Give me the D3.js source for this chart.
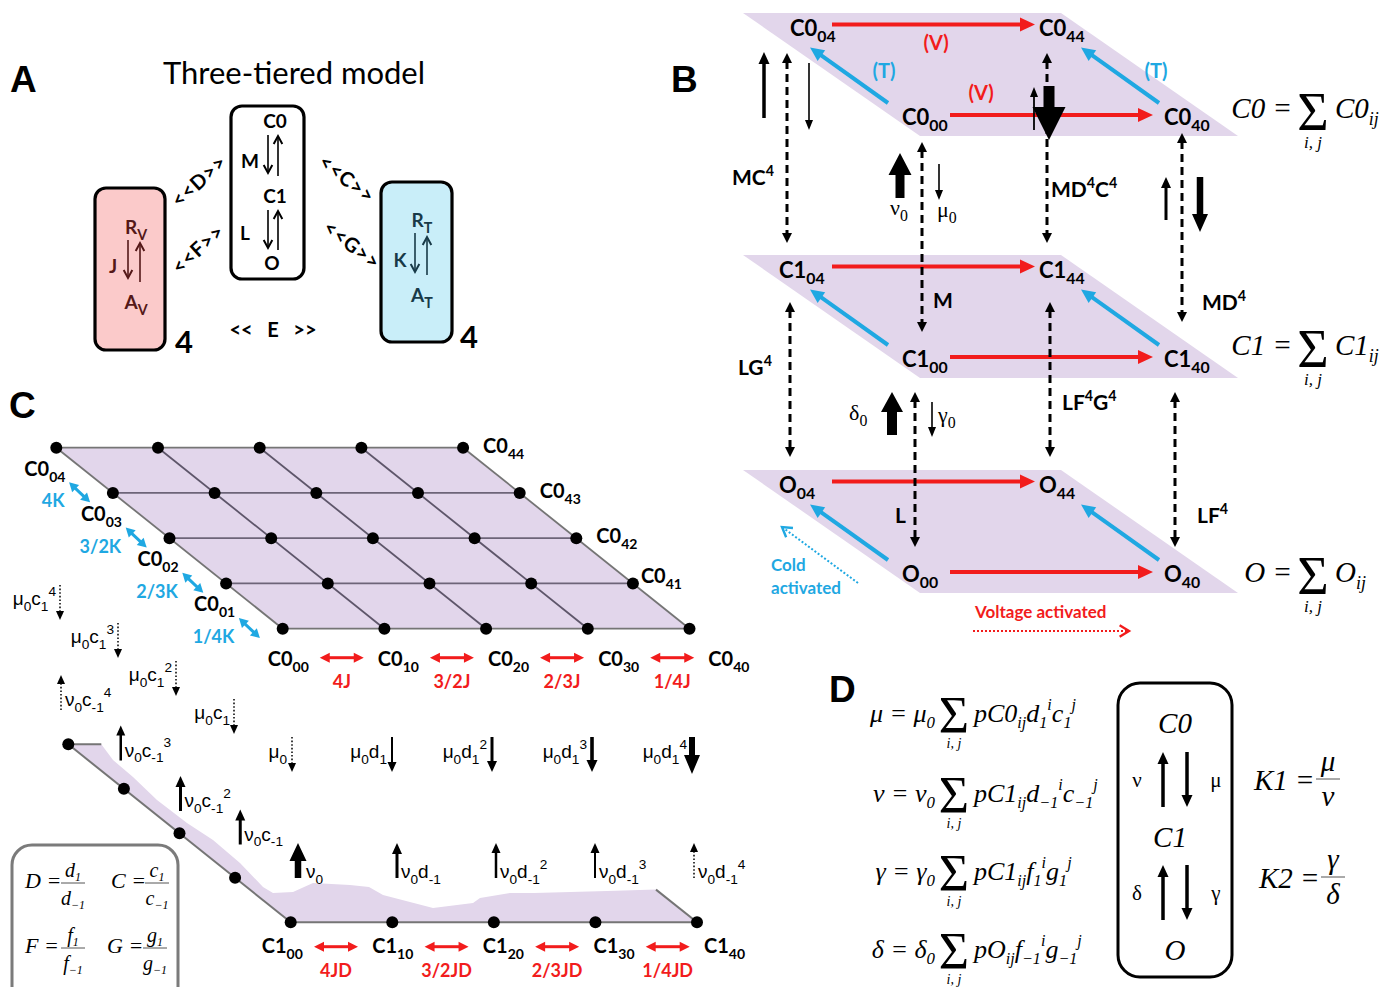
<!DOCTYPE html>
<html>
<head>
<meta charset="utf-8">
<script src="https://cdn.jsdelivr.net/npm/d3@7"></script>
<style>
  body { margin: 0; background: #fff; }
  svg { display: block; }
  text { white-space: pre; }
</style>
</head>
<body>
<div id="chart"></div>
<script>
// ---------------- data ----------------
const panelLetters = ["A", "B", "C", "D"];
const modelTitle = "Three-tiered model";
const poreStates = ["C0", "C1", "O"];
const poreRates = ["M", "L"];
const vSensor = ["R_{V}", "J", "A_{V}"];
const tSensor = ["R_{T}", "K", "A_{T}"];
const couplings = ["<<D>>", "<<F>>", "<<C>>", "<<G>>", "<<   E   >>"];
const sensorCopies = ["4", "4"];

const tierNames = ["C0", "C1", "O"];
const cornerIds = ["04", "44", "00", "40"];
const tierRates = ["MC^{4}", "M", "MD^{4}C^{4}", "MD^{4}", "LG^{4}", "L", "LF^{4}G^{4}", "LF^{4}"];
const baseRates = ["ν_{0}", "μ_{0}", "δ_{0}", "γ_{0}"];
const activationTags = ["(V)", "(T)"];
const coldText = ["Cold", "activated"];
const voltText = "Voltage activated";

const gridIdx = [0, 1, 2, 3, 4];
const kRates = ["4K", "3/2K", "2/3K", "1/4K"];      // C0_04<->C0_03 ... C0_01<->C0_00
const jRates = ["4J", "3/2J", "2/3J", "1/4J"];
const jdRates = ["4JD", "3/2JD", "2/3JD", "1/4JD"];
const muC = ["μ_{0}", "μ_{0}c_{1}", "μ_{0}c_{1}^{2}", "μ_{0}c_{1}^{3}", "μ_{0}c_{1}^{4}"];          // j = 0..4
const nuC = ["ν_{0}", "ν_{0}c_{-1}", "ν_{0}c_{-1}^{2}", "ν_{0}c_{-1}^{3}", "ν_{0}c_{-1}^{4}"];
const muD = ["μ_{0}", "μ_{0}d_{1}", "μ_{0}d_{1}^{2}", "μ_{0}d_{1}^{3}", "μ_{0}d_{1}^{4}"];          // i = 0..4
const nuD = ["ν_{0}", "ν_{0}d_{-1}", "ν_{0}d_{-1}^{2}", "ν_{0}d_{-1}^{3}", "ν_{0}d_{-1}^{4}"];
const ratioDefs = [["D", "d"], ["C", "c"], ["F", "f"], ["G", "g"]];

const sumEqs = [
  ["μ", "pC0_{ij}d_{1}^{i}c_{1}^{j}"],
  ["ν", "pC1_{ij}d_{−1}^{i}c_{−1}^{j}"],
  ["γ", "pC1_{ij}f_{1}^{i}g_{1}^{j}"],
  ["δ", "pO_{ij}f_{−1}^{i}g_{−1}^{j}"]
];
const boxRates = [["ν", "μ"], ["δ", "γ"]];
const equilibria = [["K1", "μ", "ν"], ["K2", "γ", "δ"]];

// ---------------- setup ----------------
const W = 1382, H = 987;
const svg = d3.select("#chart").append("svg")
  .attr("width", W).attr("height", H).attr("viewBox", `0 0 ${W} ${H}`);

const LAB = "Lato, 'Open Sans', 'Liberation Sans', sans-serif";
const ARIAL = "'Liberation Sans', Arial, sans-serif";
const SERIF = "'Liberation Serif', 'Times New Roman', serif";
const RED = "#f21c1c", BLUE = "#1fa8e2", PLANE = "#e2d6eb", GRIDC = "#757575";

// ---------------- helpers ----------------
function headPath(x, y, ang, len, wid) {
  const bx = x - len * Math.cos(ang), by = y - len * Math.sin(ang);
  const nx = -Math.sin(ang) * wid / 2, ny = Math.cos(ang) * wid / 2;
  return `M${x},${y}L${bx + nx},${by + ny}L${bx - nx},${by - ny}Z`;
}

function arrow(g, x1, y1, x2, y2, o) {
  o = Object.assign({ color: "#000", w: 2, len: 10, wid: 9, dash: null, both: false }, o);
  const ang = Math.atan2(y2 - y1, x2 - x1);
  const c = Math.cos(ang), s = Math.sin(ang), back = o.len * 0.8;
  const ax = o.both ? x1 + back * c : x1, ay = o.both ? y1 + back * s : y1;
  g.append("line")
    .attr("x1", ax).attr("y1", ay).attr("x2", x2 - back * c).attr("y2", y2 - back * s)
    .attr("stroke", o.color).attr("stroke-width", o.w).attr("stroke-dasharray", o.dash);
  g.append("path").attr("d", headPath(x2, y2, ang, o.len, o.wid)).attr("fill", o.color);
  if (o.both) g.append("path").attr("d", headPath(x1, y1, ang + Math.PI, o.len, o.wid)).attr("fill", o.color);
}

function openArrow(g, x1, y1, x2, y2, o) {
  o = Object.assign({ color: "#000", w: 1.6, len: 9, spread: 0.5, dash: null }, o);
  const ang = Math.atan2(y2 - y1, x2 - x1);
  g.append("line").attr("x1", x1).attr("y1", y1).attr("x2", x2).attr("y2", y2)
    .attr("stroke", o.color).attr("stroke-width", o.w).attr("stroke-dasharray", o.dash);
  const p = a => [x2 - o.len * Math.cos(a), y2 - o.len * Math.sin(a)];
  const [ax, ay] = p(ang - o.spread), [bx, by] = p(ang + o.spread);
  g.append("path").attr("d", `M${ax},${ay}L${x2},${y2}L${bx},${by}`)
    .attr("fill", "none").attr("stroke", o.color).attr("stroke-width", o.w + 0.4);
}

function block(g, x, yTail, yTip, sw, hw, hl) {
  const d = yTip < yTail ? -1 : 1;
  const yb = yTip - d * hl;
  g.append("path")
    .attr("d", `M${x - sw / 2},${yTail}L${x - sw / 2},${yb}L${x - hw / 2},${yb}L${x},${yTip}` +
               `L${x + hw / 2},${yb}L${x + sw / 2},${yb}L${x + sw / 2},${yTail}Z`)
    .attr("fill", "#000");
}

// text with _{sub} and ^{sup}
function rich(g, x, y, str, o) {
  o = Object.assign({ size: 20, family: LAB, weight: "normal", style: "normal", fill: "#000",
    anchor: "start", scale: 0.7, subDy: 0.3, supDy: -0.42 }, o);
  const t = g.append("text").attr("x", x).attr("y", y)
    .attr("font-family", o.family).attr("font-size", o.size).attr("font-weight", o.weight)
    .attr("font-style", o.style).attr("fill", o.fill).attr("text-anchor", o.anchor);
  const re = /([_^])\{([^}]*)\}|([^_^]+)/g;
  let cur = 0, m;
  while ((m = re.exec(str)) !== null) {
    const scr = !!m[1];
    const off = scr ? (m[1] === "_" ? o.subDy : o.supDy) * o.size : 0;
    t.append("tspan").attr("dy", off - cur)
      .attr("font-size", scr ? o.size * o.scale : o.size)
      .text(scr ? m[2] : m[3]);
    cur = off;
  }
  return t;
}

// ---------------- panel letters ----------------
const letterPos = [[10, 92], [671, 92], [9, 418], [829, 702]];
svg.selectAll("text.panel").data(panelLetters).enter().append("text")
  .attr("class", "panel")
  .attr("x", (d, i) => letterPos[i][0]).attr("y", (d, i) => letterPos[i][1])
  .attr("font-family", ARIAL).attr("font-weight", "bold").attr("font-size", 37)
  .text(d => d);

// ================= PANEL A =================
const gA = svg.append("g");
gA.append("text").attr("x", 294).attr("y", 84).attr("text-anchor", "middle")
  .attr("font-family", LAB).attr("font-size", 31).text(modelTitle);

const boxesA = [
  { x: 95, y: 188, w: 70, h: 162, fill: "#fbcaca" },
  { x: 231, y: 106, w: 73, h: 173, fill: "#ffffff" },
  { x: 381, y: 182, w: 71, h: 160, fill: "#c9eef9" }
];
gA.selectAll("rect").data(boxesA).enter().append("rect")
  .attr("x", d => d.x).attr("y", d => d.y).attr("width", d => d.w).attr("height", d => d.h)
  .attr("rx", 11).attr("fill", d => d.fill).attr("stroke", "#000").attr("stroke-width", 3.2);

const boldA = { size: 19, weight: "bold", scale: 0.75 };
// pore
rich(gA, 275, 128, poreStates[0], Object.assign({ anchor: "middle" }, boldA));
rich(gA, 250, 168, poreRates[0], Object.assign({ anchor: "middle" }, boldA));
rich(gA, 275, 203, poreStates[1], Object.assign({ anchor: "middle" }, boldA));
rich(gA, 245, 240, poreRates[1], Object.assign({ anchor: "middle" }, boldA));
rich(gA, 272, 270, poreStates[2], Object.assign({ anchor: "middle" }, boldA));
openArrow(gA, 268, 135, 268, 173);
openArrow(gA, 278, 176, 278, 136);
openArrow(gA, 268, 210, 268, 248);
openArrow(gA, 278, 250, 278, 211);
// voltage sensor
const vCol = "#541818";
rich(gA, 136, 234, vSensor[0], Object.assign({ anchor: "middle", fill: vCol }, boldA));
rich(gA, 113, 273, vSensor[1], Object.assign({ anchor: "middle", fill: vCol }, boldA));
rich(gA, 136, 309, vSensor[2], Object.assign({ anchor: "middle", fill: vCol }, boldA));
openArrow(gA, 128, 240, 128, 278, { color: vCol });
openArrow(gA, 140, 282, 140, 243, { color: vCol });
// temperature sensor
const tCol = "#183a48";
rich(gA, 422, 227, tSensor[0], Object.assign({ anchor: "middle", fill: tCol }, boldA));
rich(gA, 400, 267, tSensor[1], Object.assign({ anchor: "middle", fill: tCol }, boldA));
rich(gA, 422, 302, tSensor[2], Object.assign({ anchor: "middle", fill: tCol }, boldA));
openArrow(gA, 415, 233, 415, 272, { color: tCol });
openArrow(gA, 427, 275, 427, 237, { color: tCol });

// couplings
const couplePos = [[199, 181, -42], [198, 249, -42], [347, 179, 38], [352, 245, 38], [273, 337, 0]];
couplings.forEach((c, i) => {
  const [x, y, a] = couplePos[i];
  gA.append("text").attr("transform", `translate(${x},${y}) rotate(${a})`)
    .attr("text-anchor", "middle").attr("dy", i === 4 ? 0 : 7)
    .attr("font-family", LAB).attr("font-weight", "bold").attr("font-size", 20)
    .attr("letter-spacing", i === 4 ? 0 : 1)
    .text(c);
});
const copyPos = [[175, 353], [460, 348]];
sensorCopies.forEach((c, i) => {
  gA.append("text").attr("x", copyPos[i][0]).attr("y", copyPos[i][1])
    .attr("font-family", LAB).attr("font-weight", "bold").attr("font-size", 31).text(c);
});

// ================= PANEL B =================
const gB = svg.append("g");
const tierY = d3.scaleOrdinal().domain(tierNames).range([13, 255, 470]);
const PX = 743, PW = 318, SDX = 177, SDY = 123;

tierNames.forEach(t => {
  const py = tierY(t);
  gB.append("path")
    .attr("d", `M${PX},${py}L${PX + PW},${py}L${PX + PW + SDX},${py + SDY}L${PX + SDX},${py + SDY}Z`)
    .attr("fill", PLANE);
});

// planes content
const backDx = d3.scaleOrdinal().domain(tierNames).range([47, 36, 36]);
tierNames.forEach(t => {
  const py = tierY(t);
  const cornerPos = [
    [PX + backDx(t), py + 23], [PX + 296, py + 23],
    [PX + 159, py + 112], [PX + 421, py + 112]
  ];
  cornerIds.forEach((c, k) => {
    rich(gB, cornerPos[k][0], cornerPos[k][1], `${t}_{${c}}`, { size: 22, weight: "bold", scale: 0.72, subDy: 0.28 });
  });
  // voltage (red) and temperature (blue) transitions
  arrow(gB, PX + 89, py + 11.5, PX + 292, py + 11.5, { color: RED, w: 4, len: 15, wid: 14 });
  arrow(gB, PX + 207, py + 102, PX + 410, py + 102, { color: RED, w: 4, len: 15, wid: 14 });
  arrow(gB, PX + 145, py + 90, PX + 67, py + 34.5, { color: BLUE, w: 4, len: 14, wid: 13 });
  arrow(gB, PX + 416, py + 90, PX + 338, py + 34.5, { color: BLUE, w: 4, len: 14, wid: 13 });
});

// tags on top plane
const tagSpec = [[activationTags[0], 193, 37, RED], [activationTags[0], 238, 87, RED],
                 [activationTags[1], 141, 65, BLUE], [activationTags[1], 413, 65, BLUE]];
tagSpec.forEach(([s, dx, dy, col]) => {
  gB.append("text").attr("x", PX + dx).attr("y", tierY("C0") + dy).attr("text-anchor", "middle")
    .attr("font-family", LAB).attr("font-weight", "bold").attr("font-size", 20).attr("fill", col).text(s);
});

// dashed inter-tier links
const dashO = { w: 3, len: 10, wid: 10, dash: "8,5", both: true };
const y0 = tierY("C0"), y1 = tierY("C1"), y2 = tierY("O");
const links = [
  [787, y0 + 40, y1 - 12, tierRates[0], 732, 185],
  [922, y0 + 129, y1 + 77, tierRates[1], 933, 308],
  [1047, y0 + 40, y1 - 12, tierRates[2], 1051, 197],
  [1182, y0 + 120, y1 + 67, tierRates[3], 1202, 310],
  [790, y1 + 47, y2 - 13, tierRates[4], 738, 375],
  [915, y1 + 137, y2 + 77, tierRates[5], 895, 523],
  [1050, y1 + 47, y2 - 13, tierRates[6], 1062, 410],
  [1175, y1 + 137, y2 + 77, tierRates[7], 1197, 523]
];
links.forEach(([x, ya, yb, lab, lx, ly]) => {
  arrow(gB, x, ya, x, yb, dashO);
  rich(gB, lx, ly, lab, { size: 21, weight: "bold", scale: 0.68 });
});

// rate arrows between tiers
arrow(gB, 764, 118, 764, 52, { w: 3.5, len: 12, wid: 11 });
arrow(gB, 809, 63, 809, 130, { w: 1.6, len: 10, wid: 8 });
block(gB, 900, 198, 153, 9, 23, 22);
arrow(gB, 939, 164, 939, 200, { w: 1.6, len: 10, wid: 8 });
arrow(gB, 1034, 130, 1034, 87, { w: 1.8, len: 10, wid: 8 });
block(gB, 1049, 86, 140, 11, 33, 33);
arrow(gB, 1166, 220, 1166, 177, { w: 3, len: 11, wid: 10 });
block(gB, 1200, 177, 232, 6.5, 16, 18);
block(gB, 892, 435, 392, 10, 22, 20);
arrow(gB, 932, 402, 932, 437, { w: 1.6, len: 10, wid: 8 });

const basePos = [[890, 215], [937, 217], [849, 420], [938, 422]];
baseRates.forEach((s, i) => {
  rich(gB, basePos[i][0], basePos[i][1], s, { size: 22, family: SERIF, scale: 0.72, subDy: 0.25 });
});

// sums on right
const sumY = d3.scaleOrdinal().domain(tierNames).range([118, 355, 582]);
tierNames.forEach(t => {
  const by = sumY(t);
  gB.append("text").attr("x", 1292).attr("y", by).attr("text-anchor", "end")
    .attr("font-family", SERIF).attr("font-style", "italic").attr("font-size", 29).text(`${t} =`);
  gB.append("text").attr("x", 1313).attr("y", by + 12).attr("text-anchor", "middle")
    .attr("font-family", SERIF).attr("font-size", 54).text("Σ");
  rich(gB, 1335, by, `${t}_{ij}`, { size: 29, family: SERIF, style: "italic", scale: 0.62, subDy: 0.25 });
  gB.append("text").attr("x", 1313).attr("y", by + 30).attr("text-anchor", "middle")
    .attr("font-family", SERIF).attr("font-style", "italic").attr("font-size", 17).text("i, j");
});

// cold / voltage activated
coldText.forEach((s, i) => {
  gB.append("text").attr("x", 771).attr("y", 571 + i * 22.5)
    .attr("font-family", LAB).attr("font-weight", "bold").attr("font-size", 17).attr("fill", BLUE).text(s);
});
openArrow(gB, 858, 583, 782, 527, { color: BLUE, w: 2, dash: "2,2", len: 11, spread: 0.55 });
gB.append("text").attr("x", 975).attr("y", 618).attr("font-family", LAB).attr("font-weight", "bold")
  .attr("font-size", 17).attr("fill", RED).text(voltText);
openArrow(gB, 973, 631, 1129, 631, { color: RED, w: 2, dash: "2,2", len: 11, spread: 0.55 });

// ================= PANEL C =================
const gC = svg.append("g");
// C0 lattice
const cx = d3.scaleLinear().domain([0, 4]).range([282.7, 689.5]);
const cjx = d3.scaleLinear().domain([0, 4]).range([0, -226.4]);
const cy = d3.scaleLinear().domain([0, 4]).range([628.7, 447.7]);
const P = (i, j) => [cx(i) + cjx(j), cy(j)];

gC.append("path")
  .attr("d", "M" + [P(0, 0), P(4, 0), P(4, 4), P(0, 4)].map(p => p.join(",")).join("L") + "Z")
  .attr("fill", PLANE);
gridIdx.forEach(j => {
  const [ax, ay] = P(0, j), [bx, by] = P(4, j);
  gC.append("line").attr("x1", ax).attr("y1", ay).attr("x2", bx).attr("y2", by)
    .attr("stroke", j === 0 || j === 4 ? GRIDC : "#6d6478").attr("stroke-width", 1.8);
});
gridIdx.forEach(i => {
  const [ax, ay] = P(i, 0), [bx, by] = P(i, 4);
  gC.append("line").attr("x1", ax).attr("y1", ay).attr("x2", bx).attr("y2", by)
    .attr("stroke", i === 0 || i === 4 ? GRIDC : "#5e566a").attr("stroke-width", 1.8);
});
const dots = [];
gridIdx.forEach(i => gridIdx.forEach(j => dots.push(P(i, j))));
gC.selectAll("circle.c0").data(dots).enter().append("circle").attr("class", "c0")
  .attr("cx", d => d[0]).attr("cy", d => d[1]).attr("r", 6).attr("fill", "#000");

const labC = { size: 20, weight: "bold", scale: 0.7, subDy: 0.3 };
// bottom row labels and J rates
const c0LabX = d3.scaleLinear().domain([0, 4]).range([267.7, 708.3]);
gridIdx.forEach(i => rich(gC, c0LabX(i), 666, `C0_{${i}0}`, labC));
jRates.forEach((r, k) => {
  const mid = (c0LabX(k) + 38 + c0LabX(k + 1)) / 2;
  arrow(gC, mid - 22, 657.7, mid + 22, 657.7, { color: RED, w: 3, len: 10, wid: 10, both: true });
  gC.append("text").attr("x", mid).attr("y", 688).attr("text-anchor", "middle")
    .attr("font-family", LAB).attr("font-weight", "bold").attr("font-size", 18).attr("fill", RED).text(r);
});
// left column labels and K rates
[1, 2, 3, 4].forEach(j => {
  const [x, y] = P(0, j);
  rich(gC, x - 32, y + 28, `C0_{0${j}}`, labC);
});
kRates.forEach((r, k) => {
  const jHi = 4 - k;
  const [ax, ay] = P(0, jHi), [bx, by] = P(0, jHi - 1);
  const mx = (ax + bx) / 2 - 5, my = (ay + by) / 2 + 22;
  arrow(gC, mx - 10.5, my - 10, mx + 10.5, my + 10, { color: BLUE, w: 3, len: 9, wid: 10, both: true });
  gC.append("text").attr("x", mx - 15).attr("y", my + 15).attr("text-anchor", "end")
    .attr("font-family", LAB).attr("font-weight", "bold").attr("font-size", 18).attr("fill", BLUE).text(r);
});
// right column labels
[1, 2, 3, 4].forEach(j => {
  const [x, y] = P(4, j);
  if (j === 1) rich(gC, x + 8, y, `C0_{4${j}}`, labC);
  else rich(gC, x + 20, y + 5, `C0_{4${j}}`, labC);
});

// C1 side view
const c1x = d3.scaleLinear().domain([0, 4]).range([290.7, 697]);
const c1jx = d3.scaleLinear().domain([0, 4]).range([0, -222.4]);
const c1y = d3.scaleLinear().domain([0, 4]).range([922.3, 744.3]);
const Q = (i, j) => [c1x(i) + c1jx(j), c1y(j)];

const sheet = [
  Q(0, 4), [Q(0, 4)[0] + 33, Q(0, 4)[1]],
  [113, 760], [133, 777], [157, 800], [187, 823], [213, 840], [240, 863], [263, 887], [273, 893],
  [293, 892], [313, 883], [350, 885], [369, 887], [383, 895], [433, 908], [473, 903], [480, 898],
  [510, 893], [534, 893], [607, 891], [656, 889.6],
  Q(4, 0), Q(0, 0)
];
gC.append("path").attr("d", "M" + sheet.map(p => p.join(",")).join("L") + "Z").attr("fill", PLANE);
const edges = [[Q(0, 0), Q(4, 0)], [Q(0, 0), Q(0, 4)], [Q(0, 4), [Q(0, 4)[0] + 33, Q(0, 4)[1]]],
               [[656, 889.6], Q(4, 0)]];
edges.forEach(([a, b]) => gC.append("line").attr("x1", a[0]).attr("y1", a[1]).attr("x2", b[0]).attr("y2", b[1])
  .attr("stroke", GRIDC).attr("stroke-width", 2));
const c1dots = gridIdx.map(i => Q(i, 0)).concat([1, 2, 3, 4].map(j => Q(0, j)));
gC.selectAll("circle.c1").data(c1dots).enter().append("circle").attr("class", "c1")
  .attr("cx", d => d[0]).attr("cy", d => d[1]).attr("r", 6).attr("fill", "#000");

const c1LabX = d3.scaleLinear().domain([0, 4]).range([261.7, 704]);
gridIdx.forEach(i => rich(gC, c1LabX(i), 953, `C1_{${i}0}`, labC));
jdRates.forEach((r, k) => {
  const mid = (c1LabX(k) + 38 + c1LabX(k + 1)) / 2;
  arrow(gC, mid - 22, 946.7, mid + 22, 946.7, { color: RED, w: 3, len: 10, wid: 10, both: true });
  gC.append("text").attr("x", mid).attr("y", 977).attr("text-anchor", "middle")
    .attr("font-family", LAB).attr("font-weight", "bold").attr("font-size", 18).attr("fill", RED).text(r);
});

// rate arrows (mu going down, nu going up)
const rateTxt = { size: 19, family: ARIAL, scale: 0.72, subDy: 0.3, supDy: -0.5 };
const dotted = { w: 1.5, dash: "1.6,2", len: 9, wid: 8 };
const muX = d3.scaleLinear().domain([0, 4]).range([292, 60]);
const muTop = d3.scaleLinear().domain([0, 4]).range([737, 585]);
[1, 2, 3, 4].forEach(j => {
  const x = muX(j), t = muTop(j);
  arrow(gC, x, t, x, t + 35, dotted);
  rich(gC, x - 4, t + 20, muC[j], Object.assign({ anchor: "end" }, rateTxt));
});
const muDX = d3.scaleLinear().domain([0, 4]).range([292, 692]);
const muDStyle = [dotted, { w: 2, len: 10, wid: 9 }, { w: 3, len: 11, wid: 10 }, { w: 3.6, len: 12, wid: 11 }, null];
gridIdx.forEach(i => {
  const x = muDX(i);
  if (muDStyle[i]) arrow(gC, x, 737, x, 772, muDStyle[i]);
  else block(gC, x, 737, 774, 6, 16, 19);
  rich(gC, x - 5, 758, muD[i], Object.assign({ anchor: "end" }, rateTxt));
});
const nuX = d3.scaleLinear().domain([0, 4]).range([300, 61]);
const nuTop = d3.scaleLinear().domain([0, 2, 4]).range([843, 776, 675]);
const nuCStyle = [null, { w: 3, len: 11, wid: 10 }, { w: 3, len: 11, wid: 10 }, { w: 2.5, len: 10, wid: 9 }, dotted];
[1, 2, 3, 4].forEach(j => {
  const x = nuX(j), t = nuTop(j);
  arrow(gC, x, t + 35, x, t, nuCStyle[j]);
  rich(gC, x + 4, t + 31, nuC[j], rateTxt);
});
const nuDX = d3.scaleLinear().domain([0, 4]).range([298, 694]);
const nuDStyle = [null, { w: 3, len: 11, wid: 10 }, { w: 2.5, len: 10, wid: 9 }, { w: 2, len: 10, wid: 9 }, dotted];
gridIdx.forEach(i => {
  const x = nuDX(i);
  if (nuDStyle[i]) arrow(gC, x, 878, x, 843, nuDStyle[i]);
  else block(gC, x, 878, 843, 6.5, 17, 18);
  rich(gC, x + (i === 0 ? 8 : 4), 878, nuD[i], rateTxt);
});

// ratio legend box
gC.append("rect").attr("x", 12).attr("y", 845).attr("width", 166).attr("height", 170).attr("rx", 20)
  .attr("fill", "none").attr("stroke", "#7b7b7b").attr("stroke-width", 3);
const ratioPos = [[25, 888, 73], [111, 888, 157], [25, 953, 73], [107, 953, 155]];
ratioDefs.forEach(([big, small], k) => {
  const [x, y, fc] = ratioPos[k];
  gC.append("text").attr("x", x).attr("y", y).attr("font-family", SERIF).attr("font-style", "italic")
    .attr("font-size", 22).text(`${big} =`);
  rich(gC, fc, y - 11, `${small}_{1}`, { size: 20, family: SERIF, style: "italic", anchor: "middle", scale: 0.6, subDy: 0.2 });
  gC.append("line").attr("x1", fc - 12).attr("x2", fc + 12).attr("y1", y - 5).attr("y2", y - 5)
    .attr("stroke", "#555").attr("stroke-width", 1);
  rich(gC, fc, y + 17, `${small}_{−1}`, { size: 20, family: SERIF, style: "italic", anchor: "middle", scale: 0.6, subDy: 0.2 });
});

// ================= PANEL D =================
const gD = svg.append("g");
const eqY = [722, 802, 880, 958];
sumEqs.forEach(([g, rest], k) => {
  const by = eqY[k];
  rich(gD, 935, by, `${g} = ${g}_{0}`, { size: 26, family: SERIF, style: "italic", anchor: "end", scale: 0.65, subDy: 0.22 });
  gD.append("text").attr("x", 954).attr("y", by + 11).attr("text-anchor", "middle")
    .attr("font-family", SERIF).attr("font-size", 52).text("Σ");
  gD.append("text").attr("x", 954).attr("y", by + 26).attr("text-anchor", "middle")
    .attr("font-family", SERIF).attr("font-style", "italic").attr("font-size", 14).text("i, j");
  rich(gD, 974, by, rest, { size: 26, family: SERIF, style: "italic", scale: 0.62, subDy: 0.22, supDy: -0.45 });
});

gD.append("rect").attr("x", 1118).attr("y", 683).attr("width", 114).attr("height", 294).attr("rx", 22)
  .attr("fill", "none").attr("stroke", "#000").attr("stroke-width", 3);
const stateY = [733, 847, 960];
const stateX = [1175, 1170, 1175];
poreStates.forEach((s, k) => {
  gD.append("text").attr("x", stateX[k]).attr("y", stateY[k]).attr("text-anchor", "middle")
    .attr("font-family", SERIF).attr("font-style", "italic").attr("font-size", 29).text(s);
});
const pairY = [[752, 807], [865, 920]];
boxRates.forEach(([up, down], k) => {
  const [ta, tb] = pairY[k];
  arrow(gD, 1163, tb, 1163, ta, { w: 3.5, len: 12, wid: 11 });
  arrow(gD, 1187, ta, 1187, tb, { w: 3.5, len: 12, wid: 11 });
  gD.append("text").attr("x", 1137).attr("y", (ta + tb) / 2 + 7).attr("text-anchor", "middle")
    .attr("font-family", SERIF).attr("font-size", 21).text(up);
  gD.append("text").attr("x", 1216).attr("y", (ta + tb) / 2 + 7).attr("text-anchor", "middle")
    .attr("font-family", SERIF).attr("font-size", 21).text(down);
});
const eqPos = [[1254, 790, 1328, 779], [1259, 888, 1333, 877]];
equilibria.forEach(([k, num, den], i) => {
  const [x, y, fc, barY] = eqPos[i];
  gD.append("text").attr("x", x).attr("y", y).attr("font-family", SERIF).attr("font-style", "italic")
    .attr("font-size", 29).text(`${k} =`);
  gD.append("text").attr("x", fc).attr("y", barY - 8).attr("text-anchor", "middle")
    .attr("font-family", SERIF).attr("font-style", "italic").attr("font-size", 29).text(num);
  gD.append("line").attr("x1", fc - 12).attr("x2", fc + 12).attr("y1", barY).attr("y2", barY)
    .attr("stroke", "#555").attr("stroke-width", 1);
  gD.append("text").attr("x", fc).attr("y", barY + 27).attr("text-anchor", "middle")
    .attr("font-family", SERIF).attr("font-style", "italic").attr("font-size", 29).text(den);
});
</script>
</body>
</html>
